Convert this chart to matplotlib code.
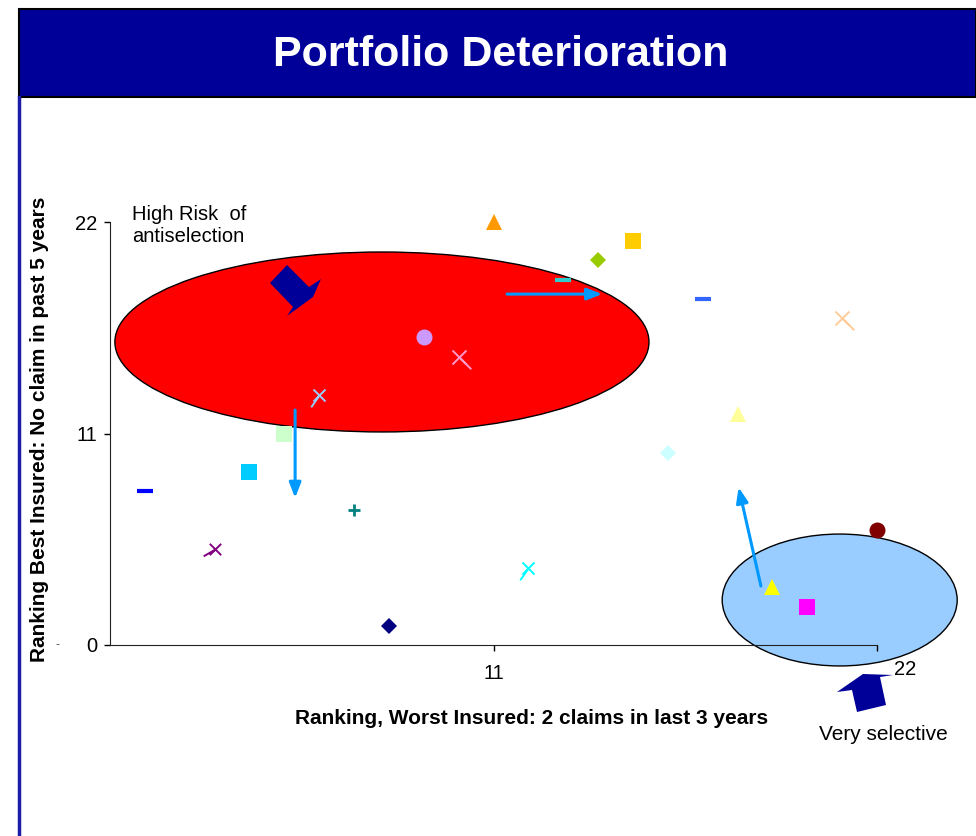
import numpy as np
import matplotlib
matplotlib.use("Agg")
from matplotlib import pyplot as plt
from matplotlib.patches import Ellipse, Polygon, Rectangle
from matplotlib.path import Path
from matplotlib.lines import Line2D

plt.rcParams['font.family'] = ['Liberation Sans', 'DejaVu Sans']

W, H = 976, 836

# ranking of each company on the two criteria
worst_rank = [11, 15, 14, 13, 17, 21, 9, 10, 6, 18, 5, 16, 4, 1, 7, 3, 12, 8, 22, 19, 20]
best_rank = [22, 21, 20, 19, 18, 17, 16, 15, 13, 12, 11, 10, 9, 8, 7, 5, 4, 1, 6, 3, 2]
colors = ['#FF9900', '#FFCC00', '#99CC00', '#33CCCC', '#3366FF', '#FFCC99', '#CC99FF',
          '#FF99CC', '#99CCFF', '#FFFF99', '#CCFFCC', '#CCFFFF', '#00CCFF', '#0000FF',
          '#008080', '#800080', '#00FFFF', '#000080', '#800000', '#FFFF00', '#FF00FF']
shapes = ['^', 's', 'D', '_', '_', 'star_dr', 'o', 'star_dr', 'star_dl', '^', 's', 'D',
          's', '_', '+', 'star_ur', 'star_dl', 'D', 'o', '^', 's']

ticks = [0, 11, 22]


def star(angle):
    # an "x" with one longer stroke, like the old spreadsheet star marker
    verts = [(-1, -1), (1, 1), (-1, 1), (1, -1), (0, 0),
             (2.4 * np.cos(np.radians(angle)), 2.4 * np.sin(np.radians(angle)))]
    codes = [Path.MOVETO, Path.LINETO, Path.MOVETO, Path.LINETO, Path.MOVETO, Path.LINETO]
    return Path(verts, codes)


custom = {'star_dr': star(-45), 'star_dl': star(-125), 'star_ur': star(-150)}


def px(x, y):
    return x / W, 1 - y / H


fig = plt.figure(figsize=(W / 100, H / 100), dpi=100)

# header band and frame
fig.patches.append(Rectangle(px(19, 97), (W - 19) / W, 88 / H, transform=fig.transFigure,
                             facecolor='#000099', edgecolor='black', linewidth=1.5, zorder=0))
fig.lines.append(Line2D([19 / W, 19 / W], [0, 1 - 97 / H], transform=fig.transFigure,
                        color='#1C1CAA', linewidth=2.5))
fig.text(*px(501, 55), 'Portfolio Deterioration', color='white', fontsize=31,
         fontweight='bold', ha='center', va='center')

ax = fig.add_axes([110 / W, 1 - 645 / H, 767 / W, 423 / H])
ax.set_xlim(0, 22)
ax.set_ylim(0, 22)
for side in ['top', 'right']:
    ax.spines[side].set_visible(False)
ax.spines['left'].set_color('#222222')
ax.spines['bottom'].set_color('#222222')
ax.set_xticks([11, 22])
ax.set_xticklabels(['11', ''])
ax.set_yticks(ticks)
ax.set_yticklabels([str(t) for t in ticks])
ax.tick_params(labelsize=14.5, length=4, width=1, direction='out', pad=5)
ax.tick_params(axis='x', pad=10)
ax.text(22.8, -1.25, '22', fontsize=14.5, ha='center', va='center', clip_on=False)
ax.set_xlabel('Ranking, Worst Insured: 2 claims in last 3 years', fontsize=15,
              fontweight='bold')
ax.xaxis.set_label_coords(0.549, -0.151)
ax.set_ylabel('Ranking Best Insured: No claim in past 5 years', fontsize=15,
              fontweight='bold')
ax.yaxis.set_label_coords(-0.079, 0.51)
fig.text(*px(57, 645), '-', fontsize=9, ha='center', va='center', color='#555555')

# zones
ax.add_patch(Ellipse((7.80, 15.76), 15.32, 9.36, facecolor='#FF0000', edgecolor='black',
                     linewidth=1, zorder=0.5, clip_on=False))
ax.add_patch(Ellipse((20.93, 2.34), 6.74, 6.86, facecolor='#99CCFF', edgecolor='black',
                     linewidth=1, zorder=0.5, clip_on=False))

for x, y, c, m in zip(worst_rank, best_rank, colors, shapes):
    if m in custom:
        ax.plot(x, y, marker=custom[m], markersize=17, color=c, markeredgewidth=1.4,
                linestyle='none', clip_on=False, zorder=3)
    elif m == '_':
        ax.plot(x, y, marker=m, markersize=11, color=c, markeredgewidth=3,
                linestyle='none', clip_on=False, zorder=3)
    elif m == '+':
        ax.plot(x, y, marker=m, markersize=9, color=c, markeredgewidth=2,
                linestyle='none', clip_on=False, zorder=3)
    else:
        size = {'o': 11.5, 's': 11, '^': 12, 'D': 8.5}[m]
        ax.plot(x, y, marker=m, markersize=size, color=c, markeredgewidth=0,
                linestyle='none', clip_on=False, zorder=3)

# movement arrows
moves = [((11.39, 18.25), (14.12, 18.25)),
         ((5.31, 12.22), (5.31, 7.65)),
         ((18.67, 3.07), (18.03, 8.20))]
for start, end in moves:
    ax.annotate('', xy=end, xytext=start, annotation_clip=False,
                arrowprops=dict(arrowstyle='-|>,head_length=0.9,head_width=0.35',
                                color='#0099FF', lw=2.2, shrinkA=0, shrinkB=0), zorder=4)

# block arrows
for pts in [[(287, 265), (309, 287), (321, 279), (313, 297), (287, 316), (293, 307), (270, 283)],
            [(837, 692), (863, 674), (893, 675), (880, 677), (886, 705), (857, 712), (852, 690)]]:
    fig.patches.append(Polygon([px(*p) for p in pts], closed=True, transform=fig.transFigure,
                               facecolor='#000099', edgecolor='none', zorder=5))

fig.text(*px(132, 205), 'High Risk  of\nantiselection', fontsize=14.5, ha='left', va='top',
         linespacing=1.2)
fig.text(*px(883, 735), 'Very selective', fontsize=15, ha='center', va='center')

fig.savefig('out.png', dpi=100)
